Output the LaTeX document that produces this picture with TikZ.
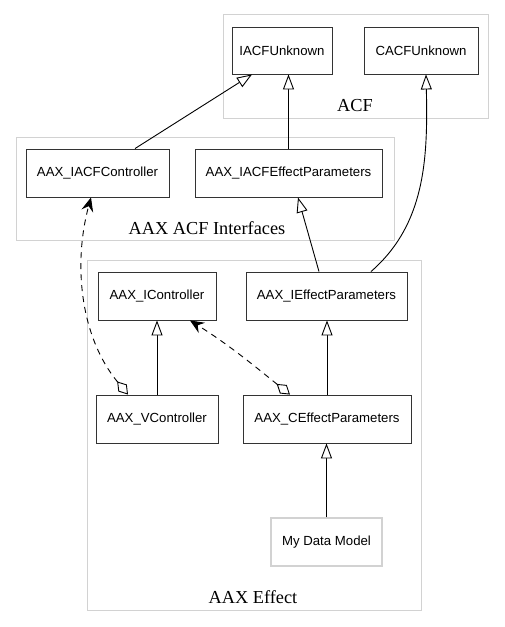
\documentclass[tikz,border=0pt]{standalone}
\usepackage{fontspec}
\setmainfont{Liberation Serif}
\newfontfamily\nodefont{Liberation Sans}
\usetikzlibrary{arrows.meta,calc}
\definecolor{clgray}{RGB}{210,210,210}
\begin{document}
\begin{tikzpicture}[x=1pt,y=-1pt,
  cls/.style={draw=clgray,line width=1pt},
  clslabel/.style={font=\fontsize{18.3}{20}\selectfont,inner sep=0pt,anchor=base},
  box/.style={draw=black!80,line width=0.9pt,fill=white,inner sep=0pt,
    font=\nodefont\fontsize{13.2}{15}\selectfont,minimum height=48pt},
  gbox/.style={box,draw=clgray,line width=1.1pt},
  inh/.style={line width=0.9pt,-{Triangle[open,length=15pt,width=11pt,fill=white]}},
  dep/.style={line width=0.9pt,dash pattern=on 6pt off 5pt,
    {Diamond[open,length=17pt,width=11pt,fill=white]}-{Stealth[length=14pt,width=12pt,inset=5pt]}}]
\useasboundingbox (0,0) rectangle (504,627);
\fill[white] (0,0) rectangle (504,627);
% clusters
\draw[cls] (223,14) rectangle (488,118);
\node[clslabel] (lacf) at (355,111) {ACF};
\draw[cls] (16,137) rectangle (394,240);
\node[clslabel] (lint) at (207,234) {AAX ACF Interfaces};
\draw[cls] (87,260) rectangle (421,610);
\node[clslabel] (leff) at (253,603) {AAX Effect};
% nodes
\node[box,minimum width=100pt,minimum height=47pt] (iacfu) at (282,50.5) {IACFUnknown};
\node[box,minimum width=114pt,minimum height=47pt] (cacfu) at (421,50.5) {CACFUnknown};
\node[box,minimum width=143pt] (iacfctrl) at (97.5,173) {AAX\_IACFController};
\node[box,minimum width=187pt] (iacfep) at (288.5,173) {AAX\_IACFEffectParameters};
\node[box,minimum width=118pt] (ictrl) at (157,296) {AAX\_IController};
\node[box,minimum width=161pt] (iep) at (326.5,296) {AAX\_IEffectParameters};
\node[box,minimum width=122pt] (vctrl) at (157,419) {AAX\_VController};
\node[box,minimum width=168pt] (cep) at (327,419) {AAX\_CEffectParameters};
\node[gbox,minimum width=111pt] (mdm) at (326.5,542) {My Data Model};
% edges
\draw[inh] ([xshift=37.5pt]iacfctrl.north) -- ([xshift=-30pt]iacfu.south);
\draw[inh] (iacfep.north) -- (iacfep.north |- iacfu.south);
\draw[inh] ([xshift=-7.5pt]iep.north) -- ([xshift=9.5pt]iacfep.south);
\draw[inh] ([xshift=44.5pt]iep.north) .. controls +(54,-47) and +(2,85) .. ([xshift=5pt]cacfu.south);
\draw[inh] (vctrl.north) -- (ictrl.south);
\draw[inh] (cep.north) -- (cep.north |- iep.south);
\draw[inh] (mdm.north) -- (mdm.north |- cep.south);
\draw[dep] ([xshift=-29pt]vctrl.north) .. controls +(-48,-58) and +(-18,66) .. ([xshift=-6.5pt]iacfctrl.south);
\draw[dep] ([xshift=-37pt]cep.north) .. controls +(-35,-28) and +(40,25) .. ([xshift=33pt]ictrl.south);
\end{tikzpicture}
\end{document}
